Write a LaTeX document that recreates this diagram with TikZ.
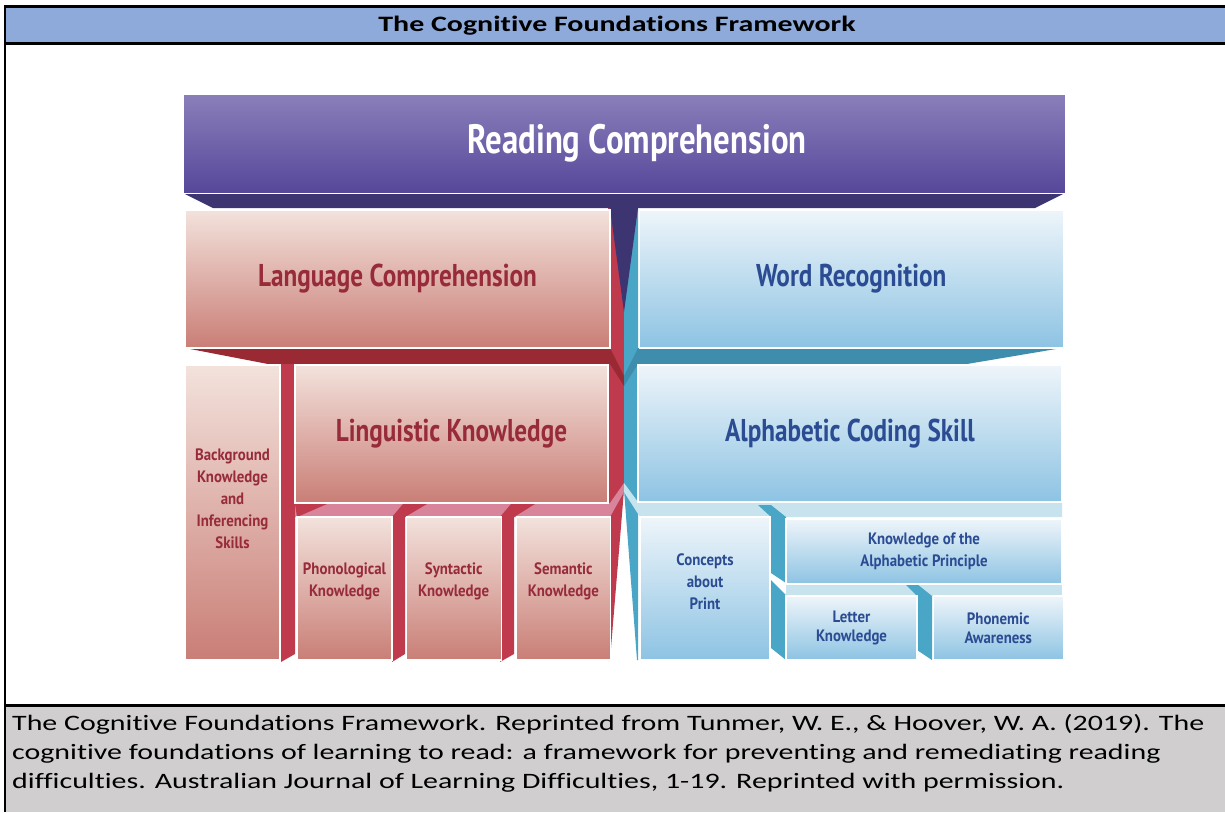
\documentclass[tikz,border=0pt]{standalone}
\usepackage{fontspec}
\setmainfont{Carlito}
\newfontfamily\capfont[FakeStretch=1.36, Ligatures=NoCommon]{Carlito}
\newfontfamily\blockfont[FakeStretch=0.8]{PT Sans}
\newfontfamily\smallblockfont[FakeStretch=0.9]{PT Sans}
\usepackage{tikz}
\usetikzlibrary{positioning}
\definecolor{TitleBlue}{HTML}{8EAADB}
\definecolor{CaptionGray}{HTML}{D0CECE}
\definecolor{PurpleTop}{HTML}{8B7FBA}
\definecolor{PurpleBot}{HTML}{56479A}
\definecolor{PurpleDark}{HTML}{3D3572}
\definecolor{PinkTop}{HTML}{F3E2DC}
\definecolor{PinkBot}{HTML}{C97E76}
\definecolor{PinkFace}{HTML}{D8849A}
\definecolor{RedSide}{HTML}{C03A4E}
\definecolor{RedDark}{HTML}{992A33}
\definecolor{LangRed}{HTML}{972B3A}
\definecolor{BlueTop}{HTML}{EEF5FA}
\definecolor{BlueBot}{HTML}{8DC3E3}
\definecolor{BlueFace}{HTML}{C6E3EE}
\definecolor{TealSide}{HTML}{4AA6C6}
\definecolor{TealDark}{HTML}{3E8DAD}
\definecolor{WordBlue}{HTML}{2B4C93}
\tikzset{
  % Box styles
  purplebox/.style={rectangle, draw=white, line width=1pt, top color=PurpleTop, bottom color=PurpleBot, text=white, font=\blockfont\bfseries\fontsize{41}{43}\selectfont, align=center, inner sep=0pt},
  pinkbox/.style={rectangle, draw=white, line width=1.2pt, top color=PinkTop, bottom color=PinkBot, text=LangRed, font=\blockfont\bfseries\fontsize{31.5}{33}\selectfont, align=center, inner sep=0pt},
  bluebox/.style={rectangle, draw=white, line width=1.2pt, top color=BlueTop, bottom color=BlueBot, text=WordBlue, font=\blockfont\bfseries\fontsize{31.5}{33}\selectfont, align=center, inner sep=0pt},
  smallpink/.style={pinkbox, font=\smallblockfont\bfseries\fontsize{16.5}{22}\selectfont},
  smallblue/.style={bluebox, font=\smallblockfont\bfseries\fontsize{16.5}{22}\selectfont},
  % Text styles
  titletext/.style={font=\capfont\bfseries\fontsize{22}{26}\selectfont, inner sep=0pt},
  citetext/.style={font=\capfont\fontsize{22}{26}\selectfont, inner sep=0pt, anchor=base west}
}
\begin{document}
\begin{tikzpicture}[x=1pt, y=-1pt]
  \useasboundingbox (0,0) rectangle (1225,812);
  % Frame
  \fill[TitleBlue] (5,6) rectangle (1225,43);
  \fill[CaptionGray] (5,705) rectangle (1225,812);
  \draw[line width=3pt] (5,6) -- (1225,6);
  \draw[line width=3pt] (5,43) -- (1225,43);
  \draw[line width=3pt] (5,705) -- (1225,705);
  \draw[line width=2pt] (5,5) -- (5,812);
  \node[titletext] (title) at (617,26) {The Cognitive Foundations Framework};

  % Centre strips
  \fill[RedSide] (608,208) -- (624,208) -- (624,490) -- (610,660) -- (608,660) -- cycle;
  \fill[TealSide] (624,208) -- (638,208) -- (638,660) -- (637,660) -- (624,490) -- cycle;
  \fill[PurpleDark] (183,193) -- (1065,193) -- (1035,208) -- (638,208) -- (624,312) -- (610,208) -- (213,208) -- cycle;
  \fill[RedDark] (185,348) -- (610,348) -- (624,376) -- (624,386) -- (610,364) -- (268,364) -- cycle;
  \fill[TealDark] (1062,348) -- (638,348) -- (624,376) -- (624,386) -- (638,364) -- (967,364) -- cycle;

  % Side and top faces
  \fill[RedSide] (281,364) -- (295,364) -- (295,654) -- (281,662) -- cycle;
  \fill[PinkFace] (295,503) -- (610,503) -- (624,483) -- (624,492) -- (610,517) -- (295,517) -- cycle;
  \fill[BlueFace] (638,502) -- (1062,502) -- (1062,517) -- (640,517) -- (624,492) -- (624,483) -- cycle;
  \fill[RedSide] (295,504) -- (327,504) -- (297,517) -- cycle;
  \fill[RedSide] (392,662) -- (392,517) -- (403,504) -- (427,504) -- (405,517) -- (405,654) -- cycle;
  \fill[RedSide] (500,662) -- (500,517) -- (511,504) -- (535,504) -- (514,517) -- (514,654) -- cycle;
  \fill[TealSide] (758,505) -- (771,505) -- (786,517) -- (786,583) -- (771,573) -- (771,517) -- cycle;
  \fill[BlueFace] (786,583) -- (1062,583) -- (1062,596) -- (786,596) -- cycle;
  \fill[TealSide] (771,580) -- (786,595) -- (786,660) -- (771,648) -- cycle;
  \fill[TealSide] (905,584) -- (917,584) -- (932,596) -- (932,660) -- (917,650) -- (917,596) -- cycle;

  % Blocks
  \node[purplebox, minimum width=882, minimum height=99] (rc) at (624,143.5) {\hspace*{26pt}Reading Comprehension};
  \node[pinkbox, minimum width=425, minimum height=138] (lc) at (397.5,279) {Language Comprehension};
  \node[bluebox, minimum width=424, minimum height=138, right=28pt of lc] (wr) {Word Recognition};
  \node[smallpink, minimum width=95, minimum height=295, text depth=27pt] (bk) at (232.5,512.5) {Background\\Knowledge\\and\\Inferencing\\Skills};
  \node[pinkbox, minimum width=313, minimum height=138] (lk) at (451.5,434) {Linguistic Knowledge};
  \node[smallpink, minimum width=95, minimum height=143, text depth=17pt] (ph) at (344.5,588.5) {Phonological\\Knowledge};
  \node[smallpink, minimum width=95, minimum height=143, text depth=17pt, right=13pt of ph] (sy) {Syntactic\\Knowledge};
  \node[smallpink, minimum width=94, minimum height=143, text depth=17pt, right=14pt of sy] (se) {Semantic\\Knowledge};
  \node[bluebox, minimum width=424, minimum height=137] (acs) at (850,433.5) {Alphabetic Coding Skill};
  \node[smallblue, minimum width=130, minimum height=143, text depth=13pt] (print) at (705,588.5) {Concepts\\about\\Print};
  \node[smallblue, minimum width=276, minimum height=65] (kap) at (924,551.5) {Knowledge of the\\Alphabetic Principle};
  \node[smallblue, minimum width=131, minimum height=64, font=\smallblockfont\bfseries\fontsize{16.5}{19}\selectfont] (lek) at (851.5,628) {Letter\\Knowledge};
  \node[smallblue, minimum width=130, minimum height=64, font=\smallblockfont\bfseries\fontsize{16.5}{19}\selectfont, right=15pt of lek] (pa) {Phonemic\\Awareness};

  % Caption
  \node[citetext] (cite1) at (12,730) {The Cognitive Foundations Framework. Reprinted from Tunmer, W. E., \& Hoover, W. A. (2019). The};
  \node[citetext] (cite2) at (12,759) {cognitive foundations of learning to read: a framework for preventing and remediating reading};
  \node[citetext] (cite3) at (12,788) {difficulties. Australian Journal of Learning Difficulties, 1-19. Reprinted with permission.};
\end{tikzpicture}
\end{document}
